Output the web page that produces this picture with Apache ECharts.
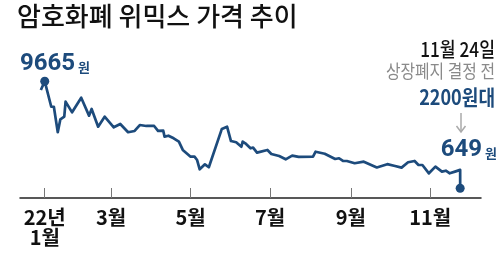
<!DOCTYPE html>
<html>
<head>
<meta charset="utf-8">
<script src="https://cdn.jsdelivr.net/npm/echarts@6/dist/echarts.min.js"></script>
<style>
html,body{margin:0;padding:0;background:#fff;}
#chart{width:500px;height:262px;}
</style>
</head>
<body>
<div id="chart"></div>
<script>
// ---- data (2022, WEMIX price in KRW) ----
const dates = ['01-06','01-09','01-14','01-16','01-19','01-21','01-24','01-25','01-30','02-06','02-12','02-14','02-19','02-24',
  '03-03','03-08','03-14','03-19','03-23','03-28','04-03','04-06','04-10','04-11','04-14','04-18','04-22','04-25',
  '05-01','05-04','05-06','05-08','05-12','05-15','05-25','05-29','06-01','06-05','06-09','06-10','06-12','06-16','06-18','06-21','06-29',
  '07-02','07-08','07-13','07-18','07-23','08-03','08-05','08-12','08-20','08-23','08-26','08-29',
  '09-04','09-11','09-21','09-29','10-05','10-10','10-15','10-20','10-23','10-26','10-31',
  '11-05','11-10','11-13','11-16','11-20','11-24','11-24'];
const prices = [8930,9665,7520,7520,5370,6460,6680,7950,7050,8280,6770,7330,5840,6680,
  5790,6070,5370,5480,5980,5900,5900,5480,5500,5000,5080,4860,4580,3880,
  3310,3310,3030,2250,2670,2420,5650,5840,4630,4530,4150,4580,4440,4020,4070,3650,3880,
  3540,3370,3090,3400,3290,3310,3730,3560,3120,3180,2950,2950,
  2760,2890,2400,2680,2530,2390,2840,2950,2610,2610,1910,
  2470,2050,2130,1910,2050,2200,649];
const tickDates = ['01-09','03-01','05-01','07-01','09-01','11-01'];
const tickLabels = ['22년\n1월','3월','5월','7월','9월','11월'];
const titleText = '암호화폐 위믹스 가격 추이';
const peakLabel = '9665';
const lastLabel = '649';
const noteLines = ['11월 24일', '상장폐지 결정 전', '2200원대'];

const monthStart = [0,31,59,90,120,151,181,212,243,273,304,334];
function dayOfYear(md){ const p = md.split('-').map(Number); return monthStart[p[0]-1] + p[1] - 1; }

const lineData = dates.map((d,i)=>[dayOfYear(d), prices[i]]);
const peakIdx = prices.indexOf(Math.max(...prices));
const dotData = [lineData[peakIdx], lineData[lineData.length-1]];
const tickVals = tickDates.map(dayOfYear);

const BLUE = '#1d4b7c';
const chart = echarts.init(document.getElementById('chart'), null, {renderer:'canvas'});
chart.setOption({
  animation:false,
  grid:{left:20, right:19, top:60, bottom:64},
  xAxis:{
    type:'value', min:-11, max:343,
    splitLine:{show:false},
    axisLine:{show:true, onZero:false, lineStyle:{color:'#222', width:1.5}},
    axisTick:{show:true, inside:true, length:10, customValues:tickVals, lineStyle:{color:'#777', width:1}},
    axisLabel:{show:true, customValues:tickVals, margin:9,
      formatter:v=>{ const i = tickVals.indexOf(v); return i>=0 ? tickLabels[i] : ''; },
      fontFamily:'Noto Sans CJK KR', fontSize:20, fontWeight:'bold', color:'#111', lineHeight:20}
  },
  yAxis:{type:'value', min:-170, max:11460, show:false, splitLine:{show:false}},
  series:[
    {type:'line', data:lineData, showSymbol:false, symbol:'none',
      lineStyle:{color:BLUE, width:2.7, join:'round'}, z:2},
    {type:'scatter', data:dotData, symbol:'circle', symbolSize:9,
      itemStyle:{color:BLUE, opacity:1}, z:3}
  ],
  graphic:[
    {type:'text', x:17, y:16, style:{text:titleText, fill:'#111', font:'500 26px "Noto Sans CJK KR"', verticalAlign:'middle'}},
    {type:'text', x:20, y:64, style:{text:'{n|'+peakLabel+'}{w| 원}', verticalAlign:'middle',
      rich:{n:{fill:BLUE, font:'bold 24px Roboto'}, w:{fill:BLUE, font:'bold 13px "Noto Sans CJK KR"', padding:[6,0,0,0]}}}},
    {type:'text', x:497, y:150, style:{text:'{n|'+lastLabel+'}{w| 원}', align:'right', verticalAlign:'middle',
      rich:{n:{fill:BLUE, font:'bold 24px Roboto'}, w:{fill:BLUE, font:'bold 13px "Noto Sans CJK KR"', padding:[6,0,0,0]}}}},
    {type:'text', x:495, y:49, scaleX:0.86, style:{text:noteLines[0], align:'right', verticalAlign:'middle', fill:'#111', font:'500 20px "Noto Sans CJK KR"'}},
    {type:'text', x:495, y:71, scaleX:0.88, style:{text:noteLines[1], align:'right', verticalAlign:'middle', fill:'#8a8a8a', font:'400 18px "Noto Sans CJK KR"'}},
    {type:'text', x:495, y:97, scaleX:0.86, style:{text:noteLines[2], align:'right', verticalAlign:'middle', fill:BLUE, font:'bold 21px "Noto Sans CJK KR"'}},
    {type:'line', shape:{x1:461, y1:113, x2:461, y2:132}, style:{stroke:'#aaa', lineWidth:1.5}},
    {type:'polyline', shape:{points:[[456.5,126],[461,132],[465.5,126]]}, style:{stroke:'#aaa', lineWidth:1.5, fill:null}}
  ]
});
</script>
</body>
</html>
